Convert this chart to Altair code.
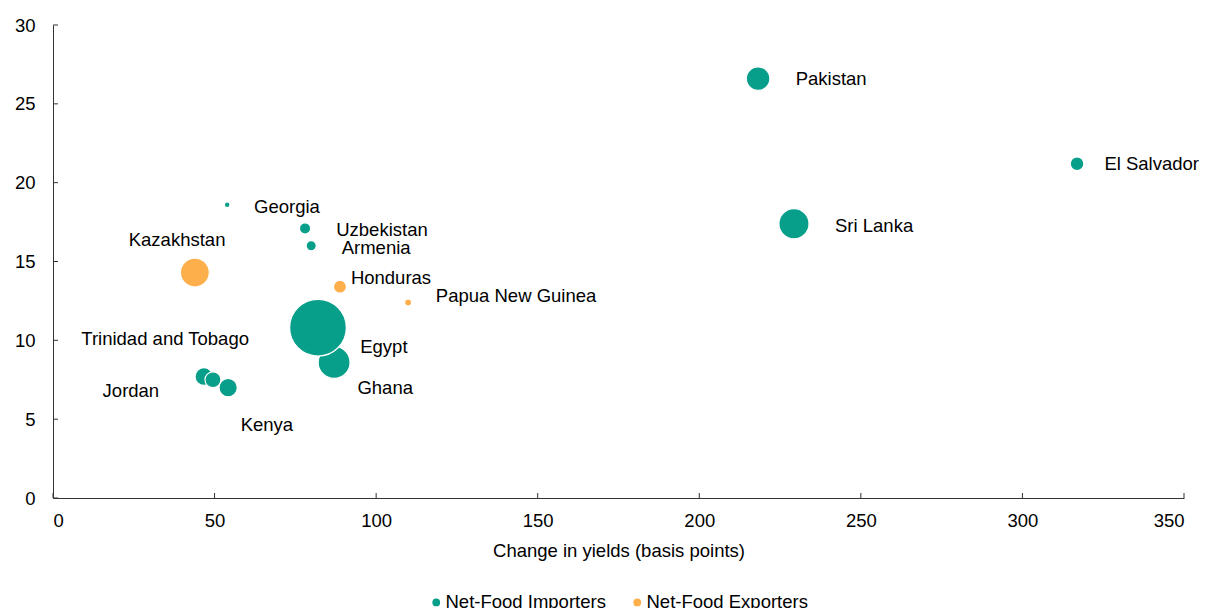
import altair as alt
import pandas as pd

countries = ["Ghana", "Egypt", "Jordan", "Trinidad and Tobago", "Kenya", "Georgia", "Uzbekistan",
             "Armenia", "Pakistan", "Sri Lanka", "El Salvador", "Kazakhstan", "Honduras",
             "Papua New Guinea"]
groups = ["Net-Food Importers"] * 11 + ["Net-Food Exporters"] * 3
yield_change = [87.0, 82.0, 46.7, 49.5, 54.2, 53.9, 78.0, 79.9, 218.2, 229.3, 316.9, 43.9, 88.8, 109.9]
value_y = [8.6, 10.8, 7.7, 7.5, 7.0, 18.6, 17.1, 16.0, 26.6, 17.4, 21.2, 14.3, 13.4, 12.4]
bubble = [31.6, 100.0, 9.8, 7.9, 10.4, 1.0, 3.9, 3.2, 17.3, 28.2, 5.8, 26.0, 5.2, 1.6]
label_x = [102.8, 102.4, 24.1, 34.7, 66.2, 72.4, 101.8, 100.0, 240.8, 254.1, 340.0, 38.4, 104.6, 143.3]
label_y = [6.98, 9.58, 6.79, 10.08, 4.63, 18.45, 17.0, 15.85, 26.6, 17.25, 21.2, 16.36, 13.95, 12.81]

x_ticks = [0, 50, 100, 150, 200, 250, 300, 350]
y_ticks = [0, 5, 10, 15, 20, 25, 30]

df = pd.DataFrame({
    "country": countries, "group": groups, "x": yield_change, "y": value_y,
    "b": bubble, "lx": label_x, "ly": label_y,
})
df["order"] = range(len(df))
xticks_df = pd.DataFrame({"t": x_ticks})
yticks_df = pd.DataFrame({"t": y_ticks})

FONT = "Liberation Sans"
FS = 18.5
TEAL = "#079E8A"
ORANGE = "#FDAF4C"
AX = "#333333"
H = 473

xscale = alt.Scale(domain=[0, 350], nice=False)
yscale = alt.Scale(domain=[0, 30], nice=False)

points = alt.Chart(df).mark_circle(opacity=1, stroke="white", strokeWidth=1.2).encode(
    x=alt.X("x:Q", scale=xscale, title="Change in yields (basis points)",
            axis=alt.Axis(values=x_ticks, grid=False, ticks=False,
                          domainColor=AX, labelFontSize=FS, titleFontSize=FS,
                          labelFont=FONT, titleFont=FONT, labelColor="#000000",
                          titleColor="#000000", titleFontWeight="normal", labelPadding=13,
                          titlePadding=12)),
    y=alt.Y("y:Q", scale=yscale, title=None,
            axis=alt.Axis(values=y_ticks, grid=False, ticks=False,
                          domainColor=AX, labelFontSize=FS, labelFont=FONT,
                          labelColor="#000000", labelPadding=18)),
    size=alt.Size("b:Q", scale=alt.Scale(domain=[0, 100], range=[0, 3217], zero=True), legend=None),
    color=alt.Color("group:N",
                    scale=alt.Scale(domain=["Net-Food Importers", "Net-Food Exporters"],
                                    range=[TEAL, ORANGE]),
                    legend=alt.Legend(title=None, orient="none", direction="horizontal",
                                      legendX=374, legendY=568, labelFontSize=FS, labelFont=FONT,
                                      labelColor="#000000", symbolType="circle", symbolSize=60,
                                      symbolStrokeWidth=0, columnPadding=22, labelOffset=0,
                                      labelLimit=400)),
    order=alt.Order("order:Q"),
)

xticks = alt.Chart(xticks_df).mark_rule(color=AX, strokeWidth=1).encode(
    x=alt.X("t:Q", scale=xscale),
    y=alt.value(H),
    y2=alt.value(H - 5),
)

yticks = alt.Chart(yticks_df).mark_rule(color=AX, strokeWidth=1).encode(
    y=alt.Y("t:Q", scale=yscale),
    x=alt.value(0),
    x2=alt.value(5),
)

labels = alt.Chart(df).mark_text(font=FONT, fontSize=FS, color="#000000", align="center",
                                 baseline="middle").encode(
    x=alt.X("lx:Q", scale=xscale),
    y=alt.Y("ly:Q", scale=yscale),
    text="country:N",
)

chart = alt.layer(points, xticks, yticks, labels).properties(
    width=1131, height=H,
    autosize=alt.AutoSizeParams(type="none"),
    padding={"left": 45, "top": 17, "right": 16, "bottom": 110},
    background="white",
).configure_view(stroke=None)

chart.save("out.html", embed_options={"renderer": "svg", "actions": False})
